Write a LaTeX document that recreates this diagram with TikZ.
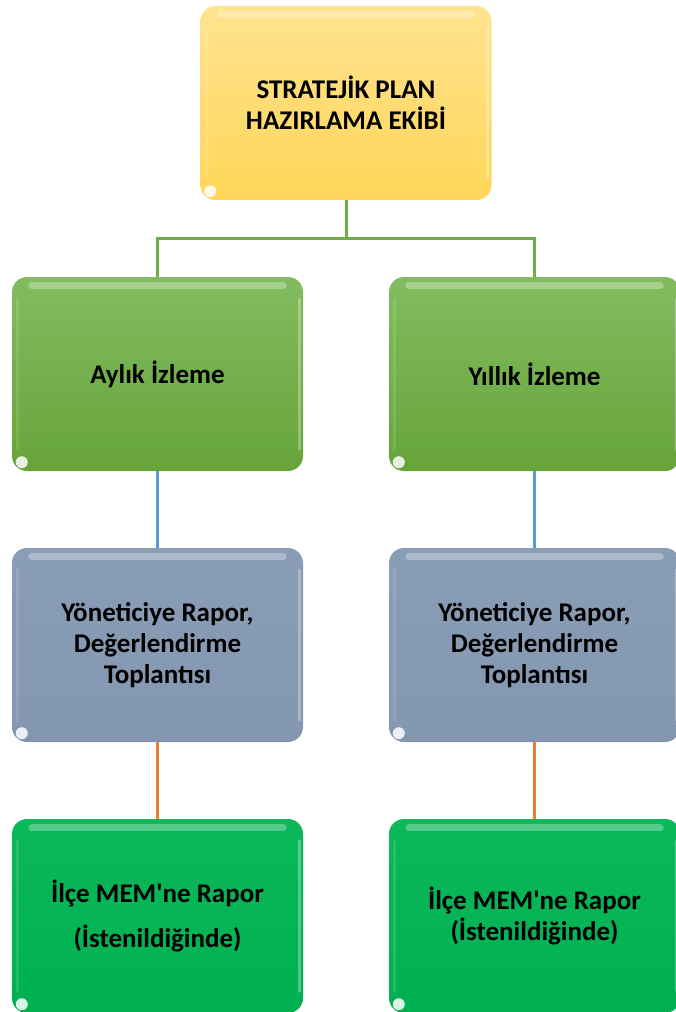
\documentclass[tikz,border=0pt]{standalone}
\usepackage{fontspec}
\setmainfont{Carlito}
\font\rawquote="Carlito/B" at 27pt
\newcommand{\sq}{{\rawquote\char"27}}
\definecolor{ytop}{HTML}{FFE38F}
\definecolor{ybot}{HTML}{FFD659}
\definecolor{gtop}{HTML}{82BC60}
\definecolor{gbot}{HTML}{66A43A}
\definecolor{slate}{HTML}{8497B0}
\definecolor{slatetop}{HTML}{8A9DB6}
\definecolor{bgreen}{HTML}{00B050}
\definecolor{bgreentop}{HTML}{0BB85A}
\definecolor{lgreen}{HTML}{70AD47}
\definecolor{lblue}{HTML}{5B9BD5}
\definecolor{lorange}{HTML}{ED7D31}
\tikzset{
  box/.style={rounded corners=15pt, minimum width=291pt, minimum height=194pt,
    align=center, inner sep=0pt, font=\bfseries\fontsize{27}{31}\selectfont},
  yellowbox/.style={box, top color=ytop, bottom color=ybot},
  greenbox/.style={box, top color=gtop, bottom color=gbot},
  slatebox/.style={box, top color=slatetop, bottom color=slate},
  brightbox/.style={box, top color=bgreentop, bottom color=bgreen},
  link/.style={line width=3pt},
  glint/.style={white, opacity=.3, line width=7pt, line cap=round},
  sideglint/.style={white, opacity=.3, line width=3pt, line cap=round},
}
\newcommand{\bevelbox}[1]{%
  \draw[glint] ([xshift=20pt,yshift=-9pt]#1.north west) -- ([xshift=-20pt,yshift=-9pt]#1.north east);
  \draw[sideglint] ([xshift=-4pt,yshift=-22pt]#1.north east) -- ([xshift=-4pt,yshift=22pt]#1.south east);
  \draw[sideglint,opacity=.12] ([xshift=6pt,yshift=-22pt]#1.north west) -- ([xshift=6pt,yshift=22pt]#1.south west);
  \fill[white, opacity=.85] ([xshift=10pt,yshift=9pt]#1.south west) circle (6pt);
}
\begin{document}
\begin{tikzpicture}[x=1pt,y=-1pt]
\useasboundingbox (0,0) rectangle (676,1012);
\clip (0,0) rectangle (676,1012);
\node[yellowbox] (top) at (346,103) {STRATEJİK PLAN\\HAZIRLAMA EKİBİ};
\node[greenbox] (gl) at (157.5,374) {Aylık İzleme};
\node[greenbox] (gr) at (534.5,374) {Yıllık İzleme};
\node[slatebox] (sl) at (157.5,645) {Yöneticiye Rapor,\\Değerlendirme\\Toplantısı};
\node[slatebox] (sr) at (534.5,645) {Yöneticiye Rapor,\\Değerlendirme\\Toplantısı};
\node[brightbox] (bl) at (157.5,916) {İlçe MEM\sq ne Rapor\\[14pt](İstenildiğinde)};
\node[brightbox] (br) at (534.5,916) {İlçe MEM\sq ne Rapor\\(İstenildiğinde)};
\foreach \n in {top,gl,gr,sl,sr,bl,br} {\bevelbox{\n}}
\coordinate (hub) at (346,238);
\draw[link, lgreen] (top.south) -- (hub);
\draw[link, lgreen] (gl.north) |- (hub) -| (gr.north);
\draw[link, lblue] (gl.south) -- (sl.north);
\draw[link, lblue] (gr.south) -- (sr.north);
\draw[link, lorange] (sl.south) -- (bl.north);
\draw[link, lorange] (sr.south) -- (br.north);
\end{tikzpicture}
\end{document}
